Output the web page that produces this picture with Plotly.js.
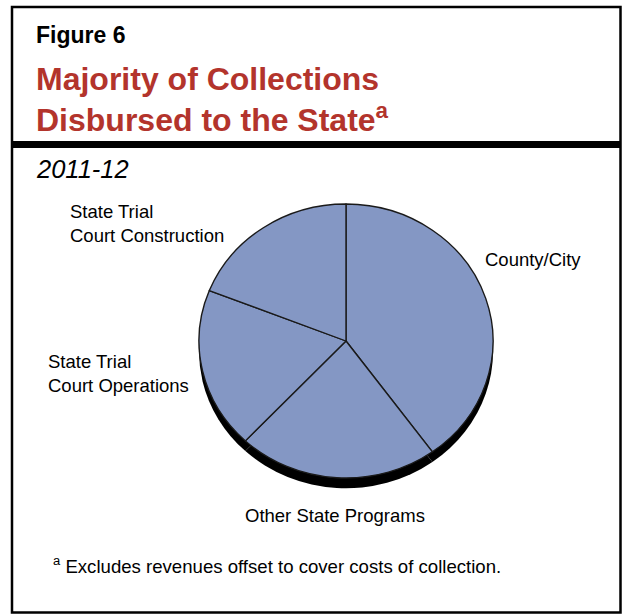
<!DOCTYPE html>
<html>
<head>
<meta charset="utf-8">
<script src="https://cdn.plot.ly/plotly-3.0.1.min.js"></script>
<style>
  html, body { margin: 0; padding: 0; background: #ffffff; }
  #chart { width: 624px; height: 616px; }
</style>
</head>
<body>
<div id="chart"></div>
<script>
// ---- data ----
const categories = ["County/City", "Other State Programs", "State Trial Court Operations", "State Trial Court Construction"];
const shares = [40, 22, 19, 19];
const displayLabels = ["County/City", "Other State Programs", "State Trial<br>Court Operations", "State Trial<br>Court Construction"];
const figureLabel = "Figure 6";
const titleLines = ["Majority of Collections", "Disbursed to the State<sup>a</sup>"];
const subtitle = "2011-12";
const footnote = "<sup>a</sup> Excludes revenues offset to cover costs of collection.";

// ---- layout helpers ----
const W = 624, H = 616;
const FONT = "Arial, 'Liberation Sans', Helvetica, sans-serif";
const px = x => x / W;
const py = y => 1 - y / H;

// pie is drawn as a circle of radius rx, then squashed vertically to ry (tilted look)
const cx = 346, cy = 341, rx = 147, ry = 137, shadowDrop = 11;
function domainFor(centerX, centerY, radius) {
  return { x: [px(centerX - radius), px(centerX + radius)], y: [py(centerY + radius), py(centerY - radius)] };
}

const shadow = {
  type: "pie",
  labels: categories,
  values: shares,
  sort: false,
  direction: "clockwise",
  rotation: 0,
  textinfo: "none",
  hoverinfo: "skip",
  marker: { colors: categories.map(() => "#000000"), line: { width: 0 } },
  domain: domainFor(cx, cy + shadowDrop, rx),
  showlegend: false
};

const pie = {
  type: "pie",
  labels: categories,
  values: shares,
  sort: false,
  direction: "clockwise",
  rotation: 0,
  textinfo: "none",
  hoverinfo: "label+value",
  marker: { colors: categories.map(() => "#8497C4"), line: { color: "#1a1a1a", width: 1.4 } },
  domain: domainFor(cx, cy, rx),
  showlegend: false
};

function ann(text, x, y, size, extra) {
  return Object.assign({
    xref: "paper", yref: "paper", x: px(x), y: py(y),
    xanchor: "left", yanchor: "middle", showarrow: false, align: "left",
    text: text, font: { family: FONT, size: size, color: "#000000" }
  }, extra || {});
}

// label placements: [x, centerY, anchor]
const labelPos = [
  [483, 259.4, "left"],
  [334.5, 515.7, "center"],
  [46, 373, "left"],
  [68, 223.5, "left"]
];

const annotations = [
  ann("<b>" + figureLabel + "</b>", 34, 35.3, 23),
  ann("<b>" + titleLines[0] + "</b>", 34, 78.8, 32, { font: { family: FONT, size: 32, color: "#B3342C" } }),
  ann("<b>" + titleLines[1] + "</b>", 34, 117.5, 32, { font: { family: FONT, size: 32, color: "#B3342C" } }),
  ann("<i>" + subtitle + "</i>", 34, 168.5, 25.5),
  ann(footnote, 51, 565.4, 18.6)
];
displayLabels.forEach((t, i) => {
  const p = labelPos[i];
  annotations.push(ann(t, p[0], p[1], 18.5, { xanchor: p[2], align: p[2] === "center" ? "center" : "left" }));
});

const shapes = [
  // outer frame
  { type: "rect", xref: "paper", yref: "paper", x0: px(12), x1: px(620.5), y0: py(612.5), y1: py(7), line: { color: "#000000", width: 2.5 }, fillcolor: "rgba(0,0,0,0)" },
  // thick divider under header
  { type: "line", xref: "paper", yref: "paper", x0: px(12), x1: px(620.5), y0: py(144.5), y1: py(144.5), line: { color: "#000000", width: 7 } }
];

const layout = {
  width: W, height: H,
  margin: { l: 0, r: 0, t: 0, b: 0, pad: 0 },
  paper_bgcolor: "#ffffff",
  plot_bgcolor: "#ffffff",
  showlegend: false,
  annotations: annotations,
  shapes: shapes,
  font: { family: FONT }
};

Plotly.newPlot("chart", [shadow, pie], layout, { displayModeBar: false, staticPlot: true }).then(gd => {
  const layer = gd.querySelector(".pielayer");
  if (layer) {
    layer.setAttribute("transform", `translate(0 ${cy}) scale(1 ${ry / rx}) translate(0 ${-cy})`);
  }
});
</script>
</body>
</html>
